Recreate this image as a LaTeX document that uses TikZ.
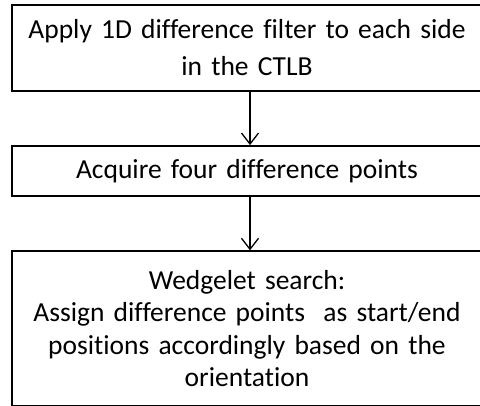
\documentclass[tikz,border=0pt]{standalone}
\usepackage{fontspec}
\setmainfont[Ligatures=NoCommon]{Carlito}
\usetikzlibrary{arrows.meta}
\begin{document}
\begin{tikzpicture}[x=1pt,y=-1pt,
  stepbox/.style={draw=black,line width=1.8pt,minimum width=470pt,inner sep=0pt,
    text width=466pt,align=center,font=\fontsize{27.5}{37}\selectfont},
  conn/.style={line width=1.3pt,-{Straight Barb[length=11pt,width=17pt,line width=1.3pt]}}]
\useasboundingbox (0,0) rectangle (480,406);
\begin{scope}
\clip (0,0) rectangle (480,406);
\node[stepbox,minimum height=86pt] (a) at (247,48) {Apply 1D difference filter to each side\\in the CTLB};
\node[stepbox,minimum height=50pt] (b) at (247,171) {Acquire four difference points};
\node[stepbox,minimum height=154.5pt,font=\fontsize{27.5}{32.5}\selectfont] (c) at (247,328.5) {Wedgelet search:\\Assign difference points~ as start/end\\positions accordingly based on the\\orientation};
\end{scope}
\draw[conn] (a.south -| 250,0) -- (b.north -| 250,0);
\draw[conn] (b.south -| 250,0) -- (c.north -| 250,0);
\end{tikzpicture}
\end{document}
